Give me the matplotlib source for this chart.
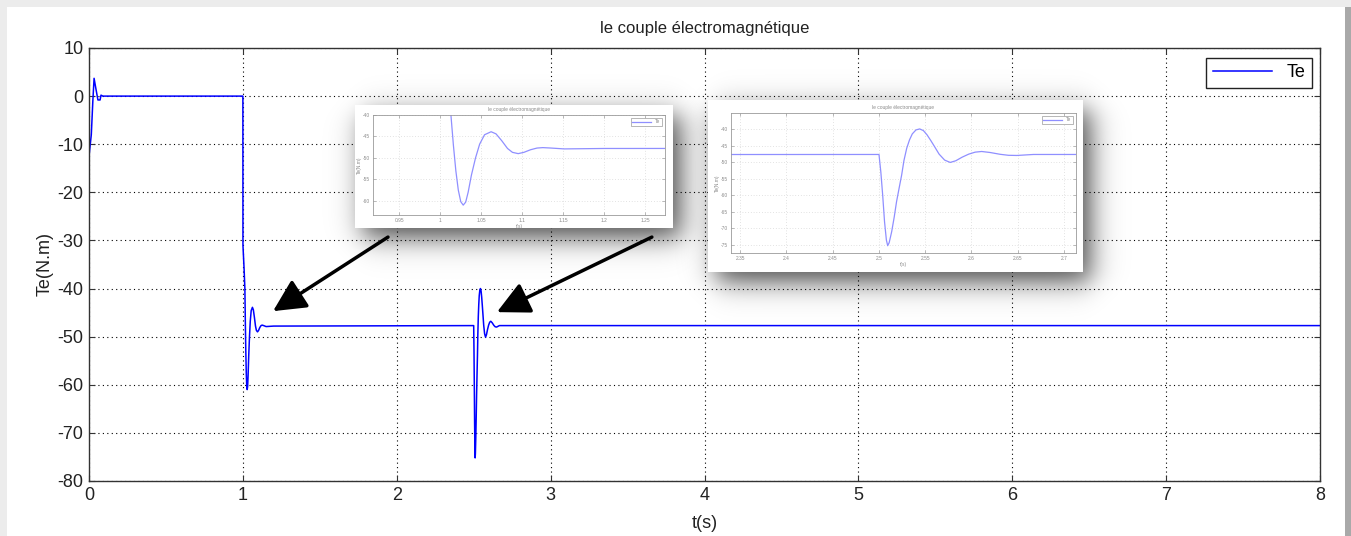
import numpy as np
import matplotlib
matplotlib.use('Agg')
import matplotlib.pyplot as plt
from matplotlib.patches import Rectangle

plt.rcParams['font.family'] = ['Liberation Sans', 'DejaVu Sans']
plt.rcParams['axes.unicode_minus'] = False

# start-up transient
t_start = [0, 0.015, 0.025, 0.033, 0.045, 0.058, 0.072, 0.078, 0.09]
te_start = [-12.5, -8, -1, 3.7, 1.5, -0.8, -0.8, 0.2, 0]

# load applied at t=1
t_step1 = [1.0, 1.0005, 1.008, 1.013, 1.016, 1.019, 1.022, 1.025, 1.028, 1.031,
           1.034, 1.038, 1.043, 1.048, 1.054, 1.062, 1.068, 1.075, 1.082, 1.088,
           1.095, 1.102, 1.11, 1.118, 1.125, 1.135, 1.151, 1.2]
te_step1 = [0, -31, -36, -40, -47, -53, -57.5, -60.2, -61, -60.3,
            -58, -54, -50, -46.8, -44.6, -43.9, -44.4, -46, -47.8, -48.7,
            -49, -48.7, -48.1, -47.7, -47.6, -47.7, -47.9, -47.8]

# disturbance at t=2.5
t_step2 = [2.5, 2.502, 2.504, 2.506, 2.508, 2.5094, 2.511, 2.5137, 2.5165, 2.519,
           2.522, 2.5245, 2.527, 2.530, 2.533, 2.536, 2.540, 2.544, 2.548, 2.552,
           2.556, 2.560, 2.565, 2.571, 2.577, 2.583, 2.590, 2.597, 2.604, 2.611,
           2.620, 2.631, 2.640, 2.649, 2.658, 2.667]
te_step2 = [-47.7, -53, -60, -68, -73.5, -75.2, -74.3, -71, -66.5, -61.9,
            -57.5, -53.9, -49.5, -45.8, -43.3, -41.5, -40.3, -40, -40.5, -41.8,
            -43.5, -45.3, -47.6, -49.4, -50.1, -49.6, -48.5, -47.6, -47, -46.8,
            -47.1, -47.65, -47.95, -48.0, -47.85, -47.7]

t_end = [8.0]
te_end = [-47.7]

t = np.array(t_start + t_step1 + t_step2 + t_end)
te = np.array(te_start + te_step1 + te_step2 + te_end)

W, H = 1351, 536
fig = plt.figure(figsize=(W / 100, H / 100), dpi=100, facecolor='white')

# outer border strips
fig.add_artist(Rectangle((0, 0), 7 / W, 1, transform=fig.transFigure, color='#ececec', lw=0))
fig.add_artist(Rectangle((0, 1 - 7 / H), 1, 7 / H, transform=fig.transFigure, color='#ececec', lw=0))
fig.add_artist(Rectangle((1345 / W, 0), 6 / W, 1 - 7 / H, transform=fig.transFigure, color='#a9a9a9', lw=0))


def px_box(l, r, top, bot):
    return [l / W, 1 - bot / H, (r - l) / W, (bot - top) / H]


def matlab_style(a, lw=1.0, col='#333333', tl=4, grid_col='black', grid_lw=0.8):
    for s in a.spines.values():
        s.set_color(col)
        s.set_linewidth(lw)
    a.tick_params(direction='in', top=True, right=True, length=tl, width=lw * 0.8, color=col)
    a.grid(True, linestyle=(0, (1, 3)), color=grid_col, linewidth=grid_lw)


ax = fig.add_axes(px_box(89, 1320, 48, 481))
ax.plot(t, te, color='#0000ff', lw=1.1, label='Te')
ax.set_xlim(0, 8)
ax.set_ylim(-80, 10)
ax.set_xticks(range(0, 9))
ax.set_yticks(range(-80, 11, 10))
matlab_style(ax)
ax.tick_params(labelsize=13, pad=4, labelcolor='#222222')
ax.set_title('le couple électromagnétique', fontsize=12, pad=11, color='#222222')
ax.set_xlabel('t(s)', fontsize=13, labelpad=8, color='#222222')
ax.set_ylabel('Te(N.m)', fontsize=13, labelpad=3, color='#222222')
leg = ax.legend(loc='upper right', bbox_to_anchor=(0.9935, 0.977), fontsize=13,
                fancybox=False, framealpha=1, edgecolor='#222222', handlelength=3.3,
                borderaxespad=0, borderpad=0.35)
leg.get_frame().set_linewidth(1.0)

# overlay for shadows, frames and arrows (pixel coords)
ov = fig.add_axes([0, 0, 1, 1], zorder=1)
ov.set_axis_off()
ov.patch.set_alpha(0)


def shadow(x0, y0, x1, y1, offx=8, offy=10, blur=20, amax=0.7):
    pad = 4 * blur
    xs = np.arange(x0 - pad, x1 + pad + offx, 1.0)
    ys = np.arange(y0 - pad, y1 + pad + offy, 1.0)
    X, Y = np.meshgrid(xs, ys)

    def s(v):
        return 1 / (1 + np.exp(-2.5 * v / blur))
    a = amax * s(X - (x0 + offx)) * s((x1 + offx) - X) * s(Y - (y0 + offy)) * s((y1 + offy) - Y)
    img = np.zeros(X.shape + (4,))
    img[..., 3] = a
    ov.imshow(img, extent=(xs[0], xs[-1], ys[-1], ys[0]), interpolation='bilinear', aspect='auto')


frames = [(355, 105, 673, 228), (708, 100, 1083, 272)]
for f in frames:
    shadow(*f)
for f in frames:
    ov.add_patch(Rectangle((f[0], f[1]), f[2] - f[0], f[3] - f[1], facecolor='white', edgecolor='none'))
ov.set_xlim(0, W)
ov.set_ylim(H, 0)

# arrows (main data coords)
for tail, head in [((1.943, -29.3), (1.196, -44.7)), ((3.658, -29.3), (2.651, -44.9))]:
    ov.annotate('', xy=head, xycoords=ax.transData, xytext=tail, textcoords=ax.transData,
                arrowprops=dict(arrowstyle='-|>,head_length=0.9,head_width=0.45', lw=2.5,
                                color='black', mutation_scale=22, shrinkA=0, shrinkB=0))

# zoomed insets
insets = [
    (px_box(373, 665, 115, 215), (0.918, 1.274), (-63.3, -40),
     [0.95, 1, 1.05, 1.1, 1.15, 1.2, 1.25], range(-60, -39, 5)),
    (px_box(731, 1076, 113, 253), (2.34, 2.713), (-77.4, -35.2),
     [2.35, 2.4, 2.45, 2.5, 2.55, 2.6, 2.65, 2.7], range(-75, -39, 5)),
]
for pos, xl, yl, xt, yt in insets:
    ia = fig.add_axes(pos, zorder=2)
    ia.plot(t, te, color='#8f8fff', lw=0.9, label='Te')
    ia.set_xlim(*xl)
    ia.set_ylim(*yl)
    ia.set_xticks(xt)
    ia.set_xticklabels([('%g' % v) for v in xt])
    ia.set_yticks(list(yt))
    matlab_style(ia, lw=0.6, col='#9a9a9a', tl=2, grid_col='#c8c8c8', grid_lw=0.5)
    ia.tick_params(labelsize=3.5, labelcolor='#8a8a8a', pad=2)
    ia.set_title('le couple électromagnétique', fontsize=3.5, color='#8a8a8a', pad=3)
    ia.set_xlabel('t(s)', fontsize=3.5, color='#8a8a8a', labelpad=1)
    ia.set_ylabel('Te(N.m)', fontsize=3.5, color='#8a8a8a', labelpad=1)
    lg = ia.legend(loc='upper right', fontsize=3.5, fancybox=False, edgecolor='#9a9a9a',
                   handlelength=4, borderaxespad=0.6, borderpad=0.3, framealpha=1)
    for tx in lg.get_texts():
        tx.set_color('#8a8a8a')
    lg.get_frame().set_linewidth(0.5)

fig.savefig('out.png', dpi=100, facecolor='white')
